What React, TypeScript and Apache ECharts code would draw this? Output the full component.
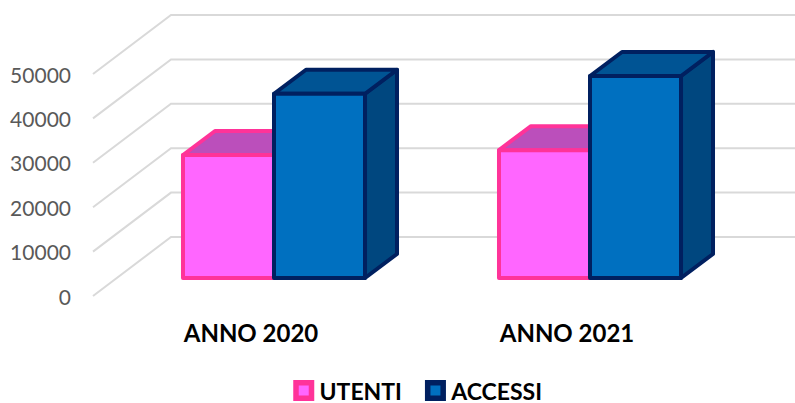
import React, { useEffect, useRef } from "react";
import * as echarts from "echarts";

const categories = ["ANNO 2020", "ANNO 2021"];
const utenti = [27700, 28800];
const accessi = [41500, 45500];
const wallTicks = [0, 10000, 20000, 30000, 40000, 50000];

const FONT = "Lato, 'Open Sans', sans-serif";

// Projection of the chart's depth axis: floor and walls recede by WALL_*,
// bars stand FRONT_* in from the front edge and are BAR_* deep.
const WALL_DX = 78;
const WALL_DY = -59;
const FRONT_DX = 23;
const FRONT_DY = -18;
const BAR_DX = 32;
const BAR_DY = -24;
const BAR_BAND = 0.288;

type Palette = { front: string; top: string; side: string; stroke: string };
const pink: Palette = { front: "#FF66FF", top: "#BB4FBB", side: "#A63DA6", stroke: "#FF3399" };
const blue: Palette = { front: "#0070C0", top: "#005494", side: "#00477F", stroke: "#002060" };

// Draws one prism; slot selects the position left (-1) or right (0) of the category centre.
function prism(slot: number, c: Palette) {
  return (_params: any, api: any) => {
    const top = api.coord([api.value(0), api.value(1)]);
    const base = api.coord([api.value(0), 0]);
    const w = api.size([1, 0])[0] * BAR_BAND;
    const x0 = top[0] + FRONT_DX + slot * w;
    const x1 = x0 + w;
    const yT = top[1] + FRONT_DY;
    const yB = base[1] + FRONT_DY;
    const style = { stroke: c.stroke, lineWidth: 4, lineJoin: "round" };
    return {
      type: "group",
      children: [
        {
          type: "polygon",
          shape: { points: [[x1, yT], [x1 + BAR_DX, yT + BAR_DY], [x1 + BAR_DX, yB + BAR_DY], [x1, yB]] },
          style: { ...style, fill: c.side },
        },
        {
          type: "polygon",
          shape: { points: [[x0, yT], [x0 + BAR_DX, yT + BAR_DY], [x1 + BAR_DX, yT + BAR_DY], [x1, yT]] },
          style: { ...style, fill: c.top },
        },
        {
          type: "polygon",
          shape: { points: [[x0, yT], [x1, yT], [x1, yB], [x0, yB]] },
          style: { ...style, fill: c.front },
        },
      ],
    };
  };
}

// Gridline for one tick: a diagonal on the side wall, then a level run on the back wall.
function wallLine(params: any, api: any) {
  const y = api.coord([0, api.value(0)])[1];
  const x = params.coordSys.x;
  return {
    type: "polyline",
    shape: { points: [[x, y], [x + WALL_DX, y + WALL_DY], [api.getWidth(), y + WALL_DY]] },
    style: { stroke: "#D9D9D9", lineWidth: 2, fill: "none" },
  };
}

export default function App() {
  const ref = useRef<HTMLDivElement>(null);

  useEffect(() => {
    document.body.style.margin = "0";
    const chart = echarts.init(ref.current!, null, { renderer: "svg" });
    chart.setOption({
      animation: false,
      backgroundColor: "#FFFFFF",
      grid: { left: 93, top: 74, width: 632, height: 222, containLabel: false },
      xAxis: {
        type: "category",
        data: categories,
        axisLine: { show: false },
        axisTick: { show: false },
        splitLine: { show: false },
        axisLabel: { color: "#000000", fontFamily: FONT, fontWeight: "bold", fontSize: 24, margin: 24 },
      },
      yAxis: {
        type: "value",
        min: 0,
        max: 50000,
        interval: 10000,
        axisLine: { show: false },
        axisTick: { show: false },
        splitLine: { show: false },
        axisLabel: {
          color: "#595959",
          fontFamily: FONT,
          fontSize: 21,
          margin: 22,
          formatter: (v: number) => String(v),
        },
      },
      legend: {
        data: [
          { name: "UTENTI", itemStyle: { color: pink.front, borderColor: pink.stroke, borderWidth: 5.5 } },
          { name: "ACCESSI", itemStyle: { color: blue.front, borderColor: blue.stroke, borderWidth: 5.5 } },
        ],
        left: 293.25,
        top: 379,
        padding: 0,
        icon: "rect",
        itemWidth: 15.5,
        itemHeight: 15.5,
        itemGap: 23,
        textStyle: {
          color: "#000000",
          fontFamily: FONT,
          fontWeight: "bold",
          fontSize: 23,
          padding: [0, 0, 0, 3],
        },
      },
      series: [
        {
          type: "custom",
          name: "wall",
          data: wallTicks.map((v) => [v]),
          encode: { y: 0 },
          renderItem: wallLine,
          silent: true,
          z: 1,
        },
        {
          type: "custom",
          name: "UTENTI",
          data: utenti.map((v, i) => [i, v]),
          encode: { x: 0, y: 1 },
          renderItem: prism(-1, pink),
          z: 2,
        },
        {
          type: "custom",
          name: "ACCESSI",
          data: accessi.map((v, i) => [i, v]),
          encode: { x: 0, y: 1 },
          renderItem: prism(0, blue),
          z: 3,
        },
      ],
    });
    return () => chart.dispose();
  }, []);

  return <div ref={ref} style={{ position: "absolute", left: 0, top: 0, width: 795, height: 403, overflow: "hidden" }} />;
}
